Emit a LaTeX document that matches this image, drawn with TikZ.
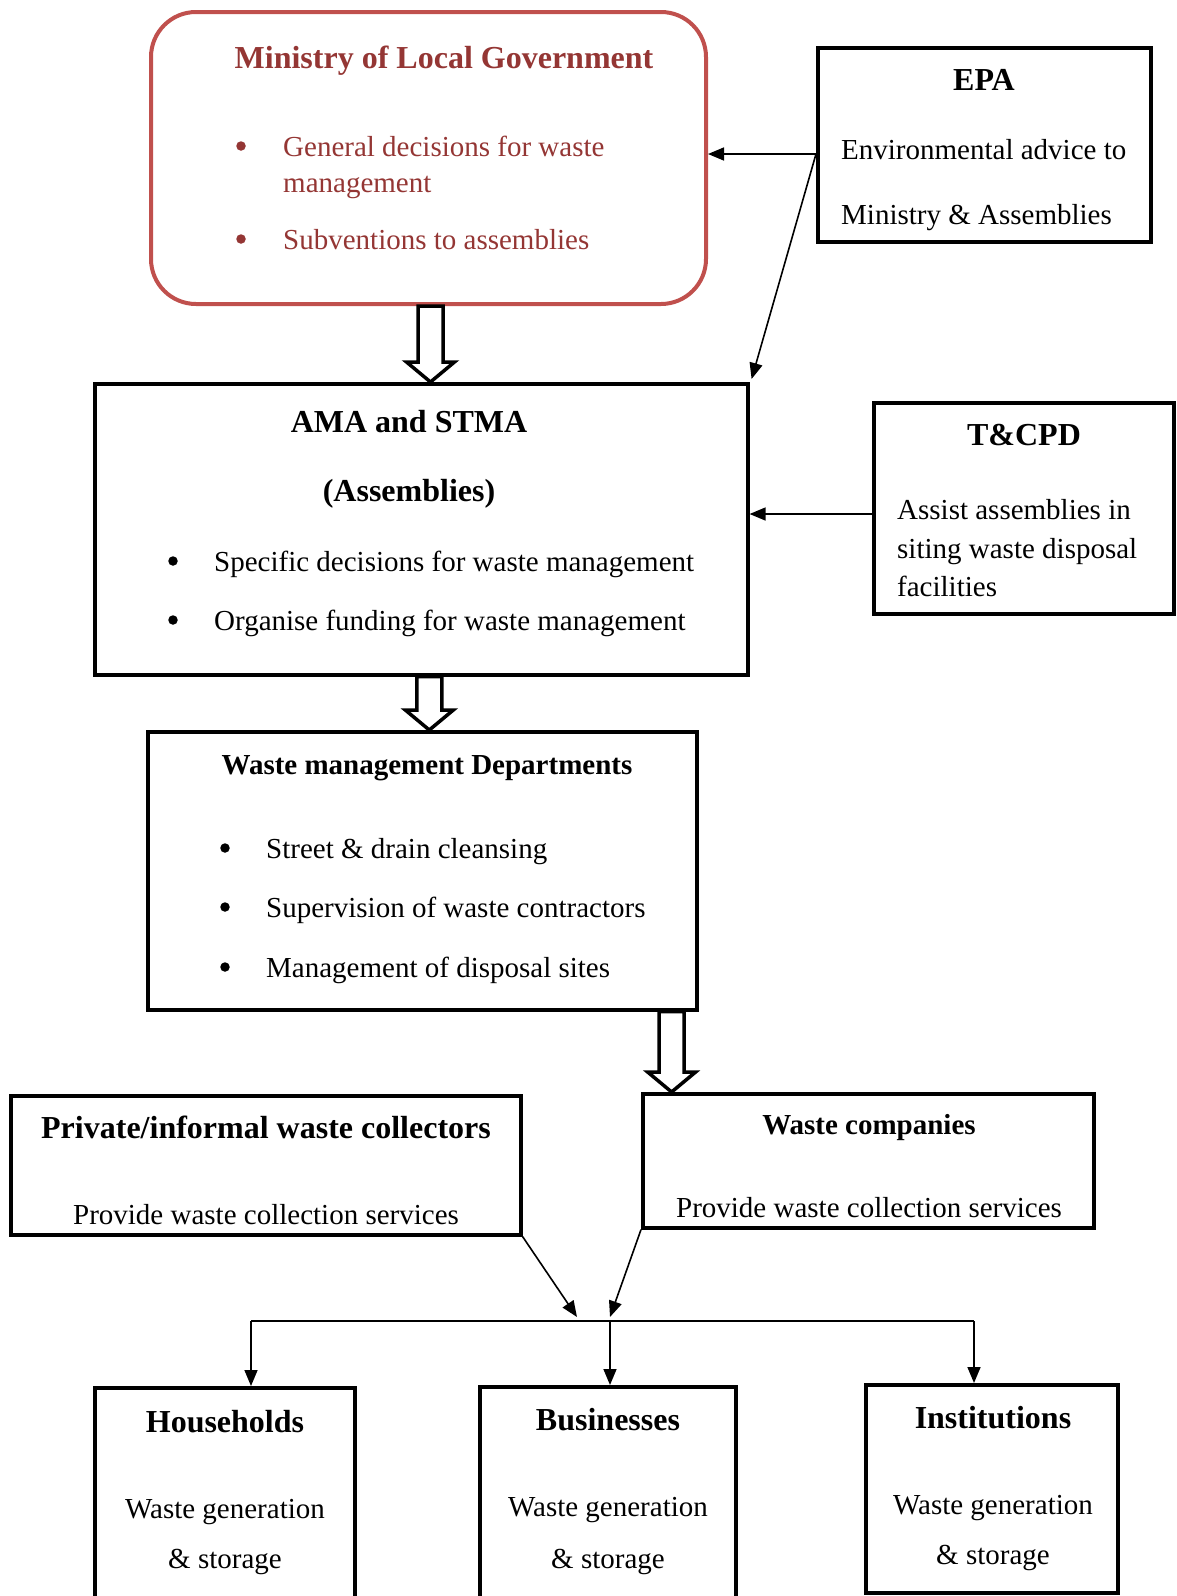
\documentclass[tikz,border=0pt]{standalone}
\usepackage{fontspec}
\setmainfont{Liberation Serif}
\usetikzlibrary{arrows.meta,calc}
\definecolor{minred}{HTML}{C0504D}
\definecolor{mintext}{HTML}{943634}
\begin{document}
\begin{tikzpicture}[x=1pt,y=-1pt,
  box/.style={draw=black,line width=3.6pt,inner sep=0pt,anchor=north west},
  body/.style={font=\fontsize{29}{35}\selectfont,inner sep=0pt,anchor=base west},
  bodyc/.style={font=\fontsize{29}{35}\selectfont,inner sep=0pt,anchor=base},
  ttl/.style={font=\fontsize{32}{38}\selectfont\bfseries,inner sep=0pt,anchor=base},
  ttls/.style={font=\fontsize{29}{35}\selectfont\bfseries,inner sep=0pt,anchor=base},
  dot/.style={circle,fill=black,draw=none,inner sep=0pt,minimum size=9.5pt},
  conn/.style={line width=1.6pt,-{Triangle[length=16pt,width=13pt]}},
  plain/.style={line width=1.6pt},
  hollow/.style={draw=black,fill=white,line width=3.5pt,line join=miter}]
\useasboundingbox (0,0) rectangle (1176,1596);
\begin{scope}
\clip (0,0) rectangle (1176,1596);
% boxes
\node[box,draw=minred,line width=4pt,rounded corners=45pt,minimum width=555pt,minimum height=292pt] (min) at (149,10) {};
\node[box,minimum width=333pt,minimum height=194pt] (epa) at (816,46) {};
\node[box,minimum width=653pt,minimum height=291pt] (ama) at (93,382) {};
\node[box,minimum width=300pt,minimum height=211pt] (tcpd) at (872,401) {};
\node[box,minimum width=549pt,minimum height=278pt] (wmd) at (146,730) {};
\node[box,minimum width=510pt,minimum height=139pt] (priv) at (9,1094) {};
\node[box,minimum width=451pt,minimum height=134pt] (wc) at (641,1092) {};
\node[box,minimum width=260pt,minimum height=240pt] (hh) at (93,1386) {};
\node[box,minimum width=256pt,minimum height=240pt] (biz) at (478,1385) {};
\node[box,minimum width=252pt,minimum height=208pt] (inst) at (864,1383) {};

% Ministry text
\node[ttl,text=mintext] (mint) at (444,68) {Ministry of Local Government};
\node[dot,fill=mintext] (minb1) at (241,146) {};
\node[body,text=mintext] (min1) at (283,156) {General decisions for waste};
\node[body,text=mintext] (min1b) at (283,192) {management};
\node[dot,fill=mintext] (minb2) at (241,239) {};
\node[body,text=mintext] (min2) at (283,249) {Subventions to assemblies};

% EPA text
\node[ttl] (epat) at (984,90) {EPA};
\node[body] (epa1) at (841,159) {Environmental advice to};
\node[body] (epa2) at (841,224) {Ministry \& Assemblies};

% AMA text
\node[ttl] (amat) at (409,432) {AMA and STMA};
\node[ttl] (amat2) at (409,501) {(Assemblies)};
\node[dot] (amab1) at (173,561) {};
\node[body] (ama1) at (214,571) {Specific decisions for waste management};
\node[dot] (amab2) at (173,620) {};
\node[body] (ama2) at (214,630) {Organise funding for waste management};

% T&CPD text
\node[ttl] (tcpdt) at (1024,445) {T\&CPD};
\node[body] (tcpd1) at (897,519) {Assist assemblies in};
\node[body] (tcpd2) at (897,558) {siting waste disposal};
\node[body] (tcpd3) at (897,596) {facilities};

% WMD text
\node[ttls] (wmdt) at (427,774) {Waste management Departments};
\node[dot] (wmdb1) at (225,848) {};
\node[body] (wmd1) at (266,858) {Street \& drain cleansing};
\node[dot] (wmdb2) at (225,907) {};
\node[body] (wmd2) at (266,917) {Supervision of waste contractors};
\node[dot] (wmdb3) at (225,967) {};
\node[body] (wmd3) at (266,977) {Management of disposal sites};

% Private / companies
\node[ttl] (privt) at (266,1138) {Private/informal waste collectors};
\node[bodyc] (priv1) at (266,1224) {Provide waste collection services};
\node[ttls] (wct) at (869,1134) {Waste companies};
\node[bodyc] (wc1) at (869,1217) {Provide waste collection services};

% Bottom boxes
\node[ttl] (hht) at (225,1432) {Households};
\node[bodyc] (hh1) at (225,1518) {Waste generation};
\node[bodyc] (hh2) at (225,1568) {\& storage};
\node[ttl] (bizt) at (608,1430) {Businesses};
\node[bodyc] (biz1) at (608,1516) {Waste generation};
\node[bodyc] (biz2) at (608,1568) {\& storage};
\node[ttl] (instt) at (993,1428) {Institutions};
\node[bodyc] (inst1) at (993,1514) {Waste generation};
\node[bodyc] (inst2) at (993,1564) {\& storage};

% hollow arrows
\coordinate (h1a) at ($(min.south)+(2,0)$);
\coordinate (h1b) at (h1a |- ama.north);
\draw[hollow] ($(h1a)+(-12.5,0)$) -- ($(h1b)+(-12.5,-20)$) -- ($(h1b)+(-24,-20)$) -- (h1b) -- ($(h1b)+(24,-20)$) -- ($(h1b)+(12.5,-20)$) -- ($(h1a)+(12.5,0)$) -- cycle;
\coordinate (h2a) at ($(ama.south)+(8,0)$);
\coordinate (h2b) at (h2a |- wmd.north);
\draw[hollow] ($(h2a)+(-12.5,0)$) -- ($(h2b)+(-12.5,-20)$) -- ($(h2b)+(-24,-20)$) -- (h2b) -- ($(h2b)+(24,-20)$) -- ($(h2b)+(12.5,-20)$) -- ($(h2a)+(12.5,0)$) -- cycle;
\coordinate (h3a) at ($(wmd.south east)+(-27,0)$);
\coordinate (h3b) at (h3a |- wc.north);
\draw[hollow] ($(h3a)+(-12.5,0)$) -- ($(h3b)+(-12.5,-20)$) -- ($(h3b)+(-24,-20)$) -- (h3b) -- ($(h3b)+(24,-20)$) -- ($(h3b)+(12.5,-20)$) -- ($(h3a)+(12.5,0)$) -- cycle;

% EPA connectors
\coordinate (epaL) at ($(epa.north west)+(0,108)$);
\draw[conn] (epaL) -- (epaL -| min.east);
\draw[conn] (epaL) -- ($(ama.north east)+(2,-3)$);
% T&CPD connector
\coordinate (tcpdL) at ($(tcpd.north west)+(0,113)$);
\draw[conn] (tcpdL) -- (tcpdL -| ama.east);

% collectors to bus
\coordinate (jL) at (577,1317);
\coordinate (jR) at (610,1317);
\draw[conn] (priv.south east) -- (jL);
\draw[conn] (wc.south west) -- (jR);
\coordinate (busL) at (251,1321);
\coordinate (busM) at (610,1321);
\coordinate (busR) at (974,1321);
\draw[plain] (busL) -- (busR);
\draw[conn] (busL) -- (busL |- hh.north);
\draw[conn] (busM) -- (busM |- biz.north);
\draw[conn] (busR) -- (busR |- inst.north);
\end{scope}
\end{tikzpicture}
\end{document}
